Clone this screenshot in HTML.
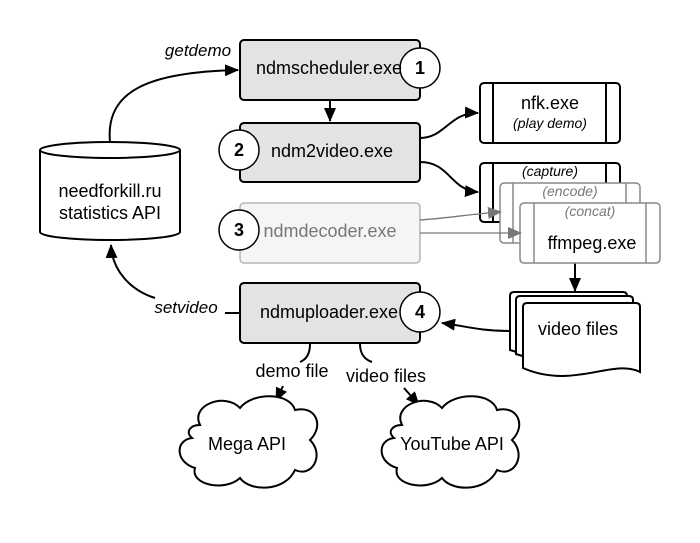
<!DOCTYPE html>
<html><head><style>body{margin:0;background:#fff}svg{display:block;font-family:"Liberation Sans",sans-serif}</style></head><body>
<svg width="700" height="543" viewBox="0 0 700 543" xmlns="http://www.w3.org/2000/svg">
<defs>
<marker id="a" markerWidth="14" markerHeight="12" refX="13" refY="6" orient="auto" markerUnits="userSpaceOnUse"><path d="M0,0 L14,6 L0,12 z" fill="#000"/></marker>
<marker id="ag" markerWidth="14" markerHeight="12" refX="13" refY="6" orient="auto" markerUnits="userSpaceOnUse"><path d="M0,0 L14,6 L0,12 z" fill="#777"/></marker>
</defs>
<g fill="none" stroke="#000" stroke-width="2">
<path d="M40,150 L40,232 A70,8 0 0 0 180,232 L180,150" fill="#fff"/>
<ellipse cx="110" cy="150" rx="70" ry="8" fill="#fff"/>
<path d="M110,142 C105,90 150,72 238,70" marker-end="url(#a)"/>
<path d="M240,313 L225,313 M155,298 C130,290 112,270 111,245" marker-end="url(#a)"/>
<path d="M330,100 L330,121" marker-end="url(#a)"/>
<path d="M420,138 C445,138 450,112 478,113" marker-end="url(#a)"/>
<path d="M420,162 C450,162 450,190 478,192" marker-end="url(#a)"/>
<path d="M575,263 L575,291" marker-end="url(#a)"/>
<path d="M509,331 C480,331 465,326 442,323" marker-end="url(#a)"/>
<path d="M310,344 C310,355 305,360 300,362"/>
<path d="M283,386 L276,401" marker-end="url(#a)"/>
<path d="M360,344 C360,355 366,360 372,362"/>
<path d="M404,388 L419,405" marker-end="url(#a)"/>
</g>
<g stroke="#000" stroke-width="2" fill="#e3e3e3">
<rect x="240" y="40" width="180" height="60" rx="4"/>
<rect x="240" y="123" width="180" height="59" rx="4"/>
<rect x="240" y="283" width="180" height="60" rx="4"/>
</g>
<rect x="240" y="203" width="180" height="60" rx="4" fill="#f5f5f5" stroke="#aaa" stroke-width="1.3"/>
<g stroke="#000" stroke-width="2" fill="#fff">
<rect x="480" y="83" width="140" height="60" rx="4"/>
<line x1="493" y1="83" x2="493" y2="143"/><line x1="606" y1="83" x2="606" y2="143"/>
<rect x="480" y="163" width="140" height="59" rx="4"/>
<line x1="493" y1="163" x2="493" y2="222"/><line x1="606" y1="163" x2="606" y2="222"/>
</g>
<g stroke="#888" stroke-width="1.5" fill="#fff">
<rect x="500" y="183" width="140" height="60" rx="4"/>
<line x1="513" y1="183" x2="513" y2="243"/><line x1="626" y1="183" x2="626" y2="243"/>
<rect x="520" y="203" width="140" height="60" rx="4"/>
<line x1="534" y1="203" x2="534" y2="263"/><line x1="646" y1="203" x2="646" y2="263"/>
</g>
<g fill="none" stroke="#777" stroke-width="1.3">
<path d="M420,220 C450,218 470,214 501,212" marker-end="url(#ag)"/>
<path d="M420,233 L521,233" marker-end="url(#ag)"/>
</g>
<g stroke="#000" stroke-width="2" fill="#fff">
<path d="M510,296 Q510,292 514,292 L623,292 Q627,292 627,296 L627,352 C600,340 560,368 510,350 Z"/>
<path d="M516,300 Q516,296 520,296 L629,296 Q633,296 633,300 L633,356 C606,344 566,372 516,354 Z"/>
<path d="M523,307 Q523,303 527,303 L636,303 Q640,303 640,307 L640,372 C613,358 573,390 523,368 Z"/>
</g>
<g stroke="#000" stroke-width="2" fill="#fff">
<path d="M200,425 C190,405 225,392 240,408 C252,392 290,392 295,410 C315,405 325,425 310,440 C325,455 312,478 295,470 C285,492 250,492 240,478 C225,492 190,485 195,468 C175,462 175,440 192,438 C185,432 190,425 200,425 Z"/>
<path d="M402,425 C392,405 427,392 442,408 C454,392 492,392 497,410 C517,405 527,425 512,440 C527,455 514,478 497,470 C487,492 452,492 442,478 C427,492 392,485 397,468 C377,462 377,440 394,438 C387,432 392,425 402,425 Z"/>
</g>
<g stroke="#000" stroke-width="1.5" fill="#fff">
<circle cx="420" cy="68" r="20"/><circle cx="239" cy="150" r="20"/><circle cx="239" cy="230" r="20"/><circle cx="420" cy="312" r="20"/>
</g>
<g font-size="18" font-weight="bold" text-anchor="middle">
<text x="420" y="74">1</text><text x="239" y="156">2</text><text x="239" y="236">3</text><text x="420" y="318">4</text>
</g>
<g font-size="18" text-anchor="middle">
<text x="329" y="74">ndmscheduler.exe</text>
<text x="332" y="157">ndm2video.exe</text>
<text x="330" y="237" fill="#777">ndmdecoder.exe</text>
<text x="329" y="318">ndmuploader.exe</text>
<text x="110" y="197">needforkill.ru</text>
<text x="110" y="219">statistics API</text>
<text x="550" y="109">nfk.exe</text>
<text x="592" y="249">ffmpeg.exe</text>
<text x="578" y="335">video files</text>
<text x="247" y="450">Mega API</text>
<text x="452" y="450">YouTube API</text>
<text x="292" y="377">demo file</text>
<text x="386" y="382">video files</text>
</g>
<g font-size="14" font-style="italic" text-anchor="middle">
<text x="550" y="128">(play demo)</text>
<text x="550" y="176">(capture)</text>
<text x="570" y="196" fill="#777">(encode)</text>
<text x="590" y="216" fill="#777">(concat)</text>
</g>
<g font-size="17" font-style="italic" text-anchor="middle">
<text x="198" y="56">getdemo</text>
<text x="186" y="313">setvideo</text>
</g>
</svg>
</body></html>
